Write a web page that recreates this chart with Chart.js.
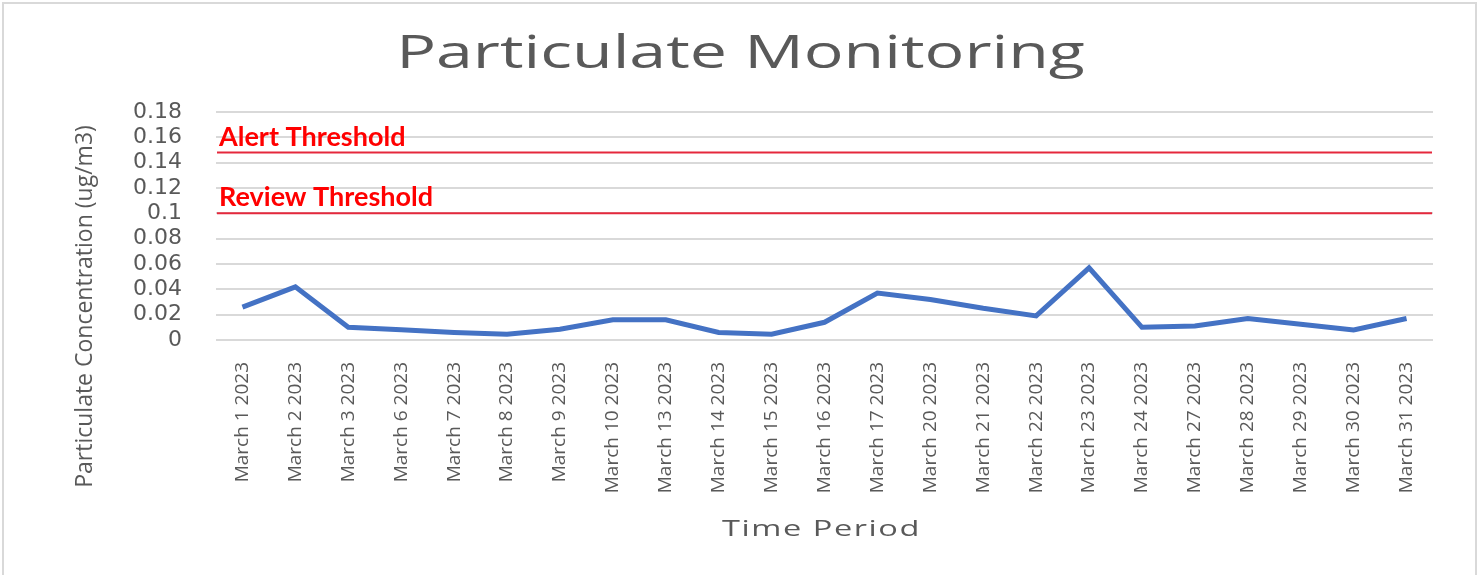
<!DOCTYPE html>
<html lang="en">

<head>
  <meta charset="UTF-8" />
  <title>Particulate Monitoring</title>
  <script src="https://cdn.jsdelivr.net/npm/chart.js"></script>
  <style>
    body { margin: 0; background: #fff; }
    .cadre { position: absolute; left: 2px; top: 2px; width: 1471px; height: 620px; border: 2px solid #d9d9d9; }
    .zone { position: absolute; left: 0; top: 0; width: 1481px; height: 575px; }
  </style>
</head>

<body>
  <div class="cadre"></div>
  <div class="zone">
    <canvas id="graphe" width="1481" height="575"></canvas>
  </div>

  <script>
    // donnees
    const dates = ['March 1 2023', 'March 2 2023', 'March 3 2023', 'March 6 2023', 'March 7 2023',
      'March 8 2023', 'March 9 2023', 'March 10 2023', 'March 13 2023', 'March 14 2023',
      'March 15 2023', 'March 16 2023', 'March 17 2023', 'March 20 2023', 'March 21 2023',
      'March 22 2023', 'March 23 2023', 'March 24 2023', 'March 27 2023', 'March 28 2023',
      'March 29 2023', 'March 30 2023', 'March 31 2023'];
    const concentration = [0.026, 0.042, 0.010, 0.008, 0.006, 0.0045, 0.0085, 0.016, 0.016, 0.006,
      0.0045, 0.014, 0.037, 0.032, 0.025, 0.019, 0.057, 0.010, 0.011, 0.017,
      0.0125, 0.008, 0.017];
    const seuils = [0.148, 0.1];
    const seuilsNoms = ['Alert Threshold', 'Review Threshold'];
    const yTicks = [0, 0.02, 0.04, 0.06, 0.08, 0.1, 0.12, 0.14, 0.16, 0.18];

    const gris = '#595959';

    // lignes rouges des seuils + texte
    const seuilsPlugin = {
      id: 'seuils',
      afterDatasetsDraw(chart) {
        const ctx = chart.ctx;
        const area = chart.chartArea;
        const y = chart.scales.y;
        ctx.save();
        seuils.forEach((v, i) => {
          const py = y.getPixelForValue(v);
          ctx.strokeStyle = '#e5283c';
          ctx.lineWidth = 2;
          ctx.beginPath();
          ctx.moveTo(area.left + 1, py);
          ctx.lineTo(area.right - 1, py);
          ctx.stroke();
          ctx.fillStyle = '#ff0000';
          ctx.font = 'bold 27px Lato';
          ctx.textAlign = 'left';
          ctx.textBaseline = 'alphabetic';
          ctx.fillText(seuilsNoms[i], area.left + 3, py - 7);
        });
        ctx.restore();
      }
    };

    // textes un peu etires comme dans l image d origine (titre, titres des axes)
    const textesPlugin = {
      id: 'textes',
      afterDraw(chart) {
        const ctx = chart.ctx;
        const area = chart.chartArea;
        ctx.save();
        ctx.fillStyle = gris;
        ctx.textAlign = 'center';

        // titre principal
        ctx.save();
        ctx.translate(chart.width / 2, 68);
        ctx.scale(1.44, 1);
        ctx.font = '46px "Open Sans"';
        ctx.fillText('Particulate Monitoring', 0, 0);
        ctx.restore();

        // titre axe x
        ctx.save();
        ctx.translate((area.left + area.right) / 2 - 3, 536);
        ctx.scale(1.55, 1);
        ctx.letterSpacing = '1px';
        ctx.font = '21px "Open Sans"';
        ctx.fillText('Time Period', 0, 0);
        ctx.restore();

        // titre axe y
        const cy = (area.top + chart.scales.x.bottom - 40) / 2;
        ctx.translate(85, cy);
        ctx.rotate(-Math.PI / 2);
        ctx.font = '23px "Open Sans"';
        ctx.textBaseline = 'middle';
        ctx.fillText('Particulate Concentration (ug/m3)', 0, 0);
        ctx.restore();
      }
    };

    const ctx = document.getElementById('graphe').getContext('2d');
    const myChart = new Chart(ctx, {
      type: 'line',
      data: {
        labels: dates,
        datasets: [{
          label: 'Particulate',
          data: concentration,
          borderColor: '#4472c4',
          borderWidth: 5,
          pointRadius: 0,
          tension: 0,
          fill: false
        }]
      },
      options: {
        responsive: false,
        animation: false,
        layout: { padding: { top: 112, right: 48, bottom: 34, left: 0 } },
        plugins: {
          legend: { display: false },
          tooltip: { enabled: false },
          title: { display: false }
        },
        scales: {
          x: {
            offset: true,
            grid: { display: false },
            border: { display: false },
            ticks: {
              color: gris,
              font: { family: 'Open Sans', size: 19 },
              minRotation: 90,
              maxRotation: 90,
              autoSkip: false,
              padding: 14
            },
            afterFit(scale) { scale.height = 201; }
          },
          y: {
            min: 0,
            max: 0.18,
            afterBuildTicks(scale) { scale.ticks = yTicks.map(v => ({ value: v })); },
            grid: { color: '#d9d9d9', lineWidth: 2, drawTicks: false },
            border: { display: false },
            ticks: {
              color: gris,
              font: { family: 'DejaVu Sans', size: 22 },
              padding: 34,
              autoSkip: false,
              callback: v => String(+v.toFixed(2))
            },
            afterFit(scale) { scale.width = 216; }
          }
        }
      },
      plugins: [seuilsPlugin, textesPlugin]
    });
  </script>
</body>

</html>
